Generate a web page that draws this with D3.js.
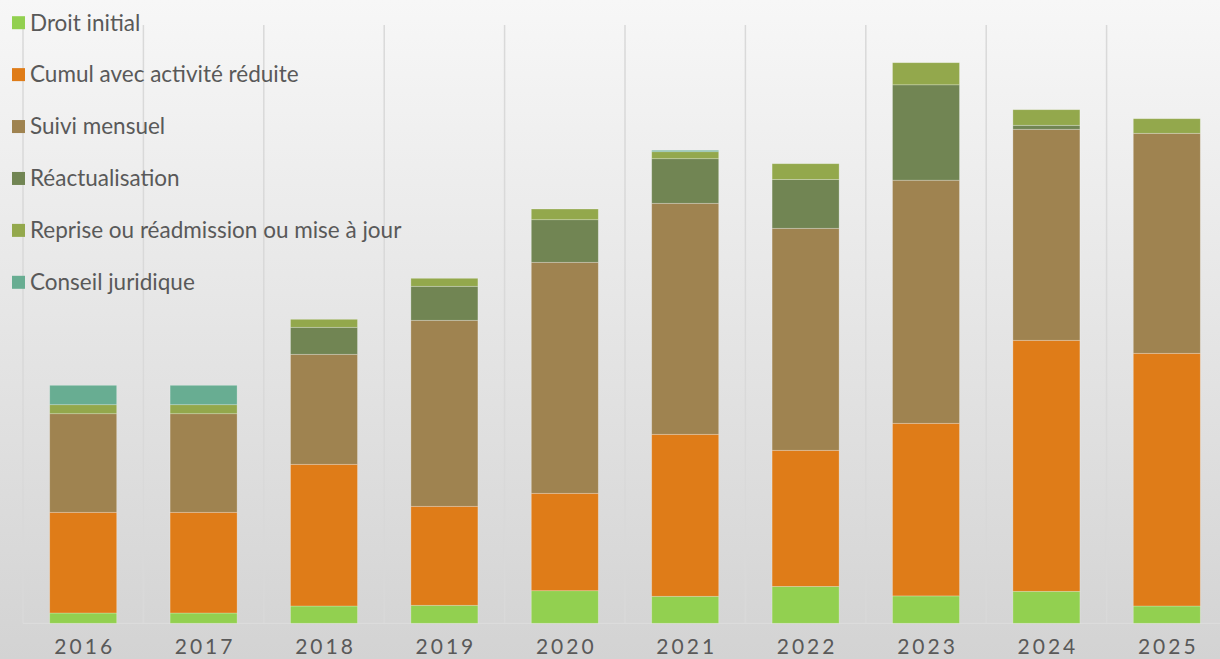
<!DOCTYPE html>
<html>
<head>
<meta charset="utf-8">
<script src="https://cdn.jsdelivr.net/npm/d3@7/dist/d3.min.js"></script>
<style>
  html, body { margin: 0; padding: 0; background: #e6e6e6; }
  svg { display: block; }
</style>
</head>
<body>
<svg id="chart" width="1220" height="659"></svg>
<script>
// ---- data ----
const years = ["2016","2017","2018","2019","2020","2021","2022","2023","2024","2025"];
const seriesNames = ["Droit initial","Cumul avec activité réduite","Suivi mensuel","Réactualisation","Reprise ou réadmission ou mise à jour","Conseil juridique"];
const droitInitial   = [10.3, 10.3, 17.3, 18.0, 32.6, 27.0, 36.9, 27.4, 32.0, 17.3];
const cumulActivite  = [100.7, 100.7, 141.7, 99.0, 97.4, 162.0, 136.1, 172.6, 251.0, 252.7];
const suiviMensuel   = [98.6, 98.6, 110.0, 186.0, 231.0, 231.0, 222.0, 243.1, 211.0, 220.0];
const reactualisation= [0, 0, 27.0, 34.0, 42.6, 44.6, 48.8, 95.4, 4.0, 0];
const reprise        = [9.0, 9.0, 8.0, 8.0, 10.7, 7.0, 15.8, 22.1, 15.6, 14.6];
const conseil        = [19.4, 19.4, 0, 0, 0, 1.4, 0, 0, 0, 0];
const colors = ["#92d050","#df7c18","#9f8350","#718553","#93a84c","#68ad92"];

const seriesValues = [droitInitial, cumulActivite, suiviMensuel, reactualisation, reprise, conseil];
const keys = seriesNames;
const rows = years.map((y, i) => {
  const r = { year: y };
  keys.forEach((k, j) => r[k] = seriesValues[j][i]);
  return r;
});

const W = 1220, H = 659;
const svg = d3.select("#chart");

// background gradient
const defs = svg.append("defs");
const grad = defs.append("linearGradient").attr("id","bg").attr("x1",0).attr("y1",0).attr("x2",0).attr("y2",1);
grad.append("stop").attr("offset","0%").attr("stop-color","#f7f7f7");
grad.append("stop").attr("offset","100%").attr("stop-color","#d3d3d3");
svg.append("rect").attr("width",W).attr("height",H).attr("fill","url(#bg)");

const plotLeft = 23, step = 120.4;
const x = d3.scaleBand().domain(years).range([plotLeft, plotLeft + step * years.length])
  .paddingInner(0.4435).paddingOuter(0.4435 / 2);
const y = d3.scaleLinear().domain([0, 620]).range([623.3, 3.3]);
const gridTop = 25;

// vertical gridlines between categories
const gridX = years.map((d, i) => plotLeft + i * step);
svg.append("g").selectAll("line").data(gridX).join("line")
  .attr("x1", d => d).attr("x2", d => d)
  .attr("y1", gridTop).attr("y2", y(0))
  .attr("stroke", "#d9d9d9").attr("stroke-width", 1.5);

// baseline
svg.append("line").attr("x1", plotLeft).attr("x2", W).attr("y1", y(0)).attr("y2", y(0))
  .attr("stroke", "#dcdcdc").attr("stroke-width", 1.2);

// stacked bars
const stack = d3.stack().keys(keys)(rows);
svg.append("g").selectAll("g").data(stack).join("g")
  .attr("fill", (d, i) => colors[i])
  .selectAll("rect").data(d => d.filter(p => p[1] - p[0] > 0)).join("rect")
  .attr("x", d => x(d.data.year))
  .attr("width", x.bandwidth())
  .attr("y", d => y(d[1]))
  .attr("height", d => y(d[0]) - y(d[1]))
  .attr("stroke", "rgba(255,255,255,0.3)")
  .attr("stroke-width", 0.8);

// x axis labels
const xAxis = d3.axisBottom(x).tickSize(0).tickPadding(0);
const gx = svg.append("g").attr("transform", `translate(0,${y(0)})`).call(xAxis);
gx.select(".domain").remove();
gx.selectAll("text")
  .attr("dy", null)
  .attr("y", 30.5)
  .attr("dx", "1.5px")
  .style("font-family", "Lato, 'Open Sans', sans-serif")
  .style("font-size", "21px")
  .style("letter-spacing", "3px")
  .attr("fill", "#595959");

// legend
const legend = svg.append("g");
const legendY = d3.scalePoint().domain(seriesNames).range([22.7, 282.3]);
const items = legend.selectAll("g").data(seriesNames).join("g")
  .attr("transform", d => `translate(12,${legendY(d)})`);
items.append("rect").attr("x", 0).attr("y", -6.5).attr("width", 13).attr("height", 13)
  .attr("fill", (d, i) => colors[i]);
items.append("text").attr("x", 18).attr("y", 7.8)
  .text(d => d)
  .style("font-family", "Lato, 'Open Sans', sans-serif")
  .style("font-size", "22.5px")
  .attr("fill", "#595959");
</script>
</body>
</html>
